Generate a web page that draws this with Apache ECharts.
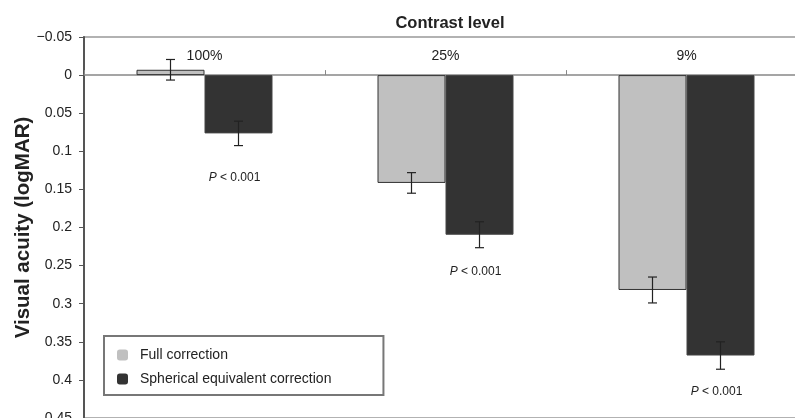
<!DOCTYPE html>
<html><head><meta charset="utf-8">
<script src="https://cdn.jsdelivr.net/npm/echarts@6/dist/echarts.min.js"></script>
<style>html,body{margin:0;padding:0;background:#fff}#c{width:795px;height:418px}</style>
</head><body><div id="c"></div>
<script>
var categories = ['100%', '25%', '9%'];
var fullValues = [-0.007, 0.1415, 0.282];
var fullErrors = [0.0135, 0.0135, 0.017];
var sphValues = [0.0765, 0.2095, 0.368];
var sphErrors = [0.016, 0.017, 0.018];
var pLabelValues = [0.134, 0.258, 0.415];
var pLabelText = 'P < 0.001';
var yTicks = { min: -0.05, max: 0.45, step: 0.05 };

var FONT = '"Liberation Sans", Arial, sans-serif';
var BARW = 68;

function errData(vals, errs) {
  return vals.map(function (v, i) { return [i, v, errs[i]]; });
}
function errRender(offset) {
  return function (params, api) {
    var i = api.value(0), v = api.value(1), e = api.value(2);
    var top = api.coord([i, v - e]);
    var bot = api.coord([i, v + e]);
    var x = top[0] + offset;
    var cap = 4.5;
    var st = { stroke: '#222', lineWidth: 1.2 };
    return { type: 'group', children: [
      { type: 'line', shape: { x1: x, y1: top[1], x2: x, y2: bot[1] }, style: st },
      { type: 'line', shape: { x1: x - cap, y1: top[1], x2: x + cap, y2: top[1] }, style: st },
      { type: 'line', shape: { x1: x - cap, y1: bot[1], x2: x + cap, y2: bot[1] }, style: st }
    ]};
  };
}

var chart = echarts.init(document.getElementById('c'));
chart.setOption({
  animation: false,
  textStyle: { fontFamily: FONT },
  title: { text: 'Contrast level', left: 445, top: 10, textAlign: 'center',
    textStyle: { fontSize: 16.5, fontWeight: 'bold', color: '#222', fontFamily: FONT } },
  grid: { left: 84, right: -12, top: 37, bottom: 0, containLabel: false, outerBoundsMode: 'none',
    show: true, borderColor: '#999', borderWidth: 1.5, backgroundColor: 'transparent' },
  legend: {
    orient: 'vertical', left: 104, top: 336,
    padding: [12, 52, 9, 13], itemGap: 10,
    itemWidth: 11, itemHeight: 11,
    borderColor: '#777', borderWidth: 2,
    textStyle: { fontSize: 14, color: '#222', fontFamily: FONT, padding: [0, 0, 0, 7] },
    itemStyle: { borderWidth: 0 },
    data: ['Full correction', 'Spherical equivalent correction']
  },
  xAxis: {
    type: 'category', data: categories, position: 'top',
    axisLine: { onZero: true, lineStyle: { color: '#888', width: 1.5 } },
    axisTick: { show: true, length: 5, lineStyle: { color: '#888' } },
    axisLabel: { fontSize: 14, color: '#222', margin: -26, fontFamily: FONT },
    splitLine: { show: false }
  },
  yAxis: {
    type: 'value', inverse: true, min: yTicks.min, max: yTicks.max, interval: yTicks.step,
    name: 'Visual acuity (logMAR)', nameLocation: 'middle', nameGap: 50, nameMoveOverlap: false,
    nameTextStyle: { fontSize: 20.5, fontWeight: 'bold', color: '#222', fontFamily: FONT },
    axisLine: { show: true, onZero: false, lineStyle: { color: '#555', width: 2 } },
    axisTick: { show: true, length: 5, lineStyle: { color: '#555' } },
    axisLabel: { fontSize: 14, color: '#222', margin: 12, fontFamily: FONT,
      formatter: function (v) { var s = String(Math.round(v * 100) / 100); return s.replace('-', '\u2212'); } },
    splitLine: { show: false }
  },
  series: [
    { name: 'Full correction', type: 'bar', data: fullValues, barWidth: BARW, barGap: '0%',
      itemStyle: { color: '#c0c0c0', borderColor: '#333', borderWidth: 1 } },
    { name: 'Spherical equivalent correction', type: 'bar', data: sphValues, barWidth: BARW,
      itemStyle: { color: '#333333', borderColor: '#444', borderWidth: 1 } },
    { type: 'custom', data: errData(fullValues, fullErrors), renderItem: errRender(-BARW / 2), z: 10, silent: true },
    { type: 'custom', data: errData(sphValues, sphErrors), renderItem: errRender(BARW / 2), z: 10, silent: true },
    { type: 'custom', z: 10, silent: true,
      data: pLabelValues.map(function (v, i) { return [i, v]; }),
      renderItem: function (params, api) {
        var p = api.coord([api.value(0), api.value(1)]);
        return { type: 'text', x: p[0] + 30, y: p[1],
          style: { text: '{i|P} < 0.001', align: 'center', verticalAlign: 'middle',
            fontSize: 12, fill: '#222', fontFamily: FONT,
            rich: { i: { fontStyle: 'italic', fontSize: 12, fontFamily: FONT, fill: '#222' } } } };
      } }
  ]
});
</script></body></html>
